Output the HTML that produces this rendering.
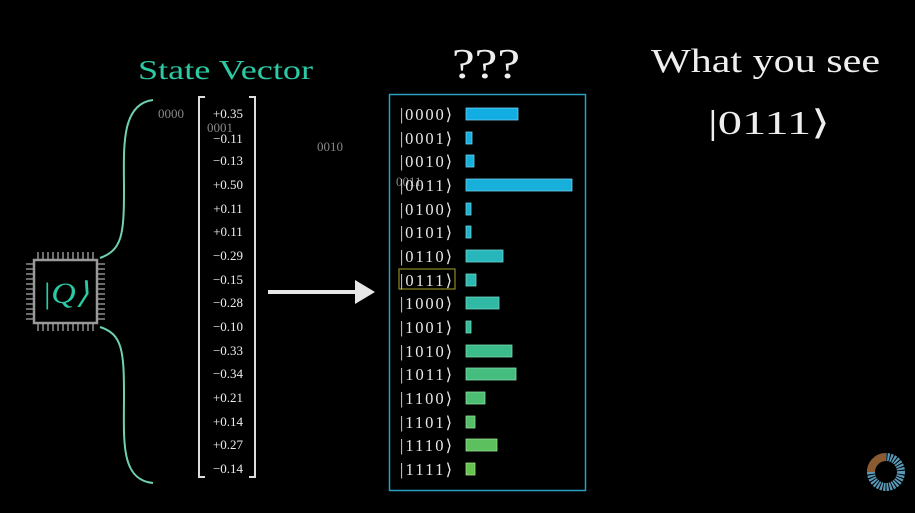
<!DOCTYPE html>
<html><head><style>
html,body{margin:0;padding:0;background:#000;}
svg{display:block}
text{font-family:"Liberation Serif",serif;}
</style></head><body>
<svg width="915" height="513" viewBox="0 0 915 513" xmlns="http://www.w3.org/2000/svg">
<rect width="915" height="513" fill="#000"/>
<text x="138" y="79" font-size="27" fill="#2cc9a4" textLength="175" lengthAdjust="spacingAndGlyphs">State Vector</text>
<text x="452" y="78" font-size="42" fill="#eee" textLength="68" lengthAdjust="spacingAndGlyphs">???</text>
<text x="651" y="72" font-size="34" fill="#eee" textLength="229" lengthAdjust="spacingAndGlyphs">What you see</text>
<text x="708" y="134" font-size="34" fill="#eee" textLength="122" lengthAdjust="spacingAndGlyphs">|0111⟩</text>
<path d="M153,100 C120,104 124,150 124,190 C124,235 122,250 100,258" fill="none" stroke="#6fd1b0" stroke-width="2"/>
<path d="M100,327 C122,334 124,350 124,395 C124,440 120,480 153,483" fill="none" stroke="#6fd1b0" stroke-width="2"/>
<g stroke="#aaa" stroke-width="1.3">
<path d="M38,252v8M43,252v8M48,252v8M53,252v8M58,252v8M63,252v8M68,252v8M73,252v8M78,252v8M83,252v8M88,252v8M93,252v8
M38,323v8M43,323v8M48,323v8M53,323v8M58,323v8M63,323v8M68,323v8M73,323v8M78,323v8M83,323v8M88,323v8M93,323v8
M26,264h8M26,269h8M26,274h8M26,279h8M26,284h8M26,289h8M26,294h8M26,299h8M26,304h8M26,309h8M26,314h8M26,319h8
M97,264h8M97,269h8M97,274h8M97,279h8M97,284h8M97,289h8M97,294h8M97,299h8M97,304h8M97,309h8M97,314h8M97,319h8"/>
</g>
<rect x="34" y="260" width="63" height="63" fill="#000" stroke="#999" stroke-width="2.5"/>
<text x="42" y="303" font-size="30" font-style="italic" fill="#2cc9a4" textLength="47" lengthAdjust="spacingAndGlyphs">|Q⟩</text>
<path d="M205,97 h-6 v380 h6" fill="none" stroke="#ddd" stroke-width="2"/>
<path d="M249,97 h6 v380 h-6" fill="none" stroke="#ddd" stroke-width="2"/>
<g font-size="13" fill="#eee" text-anchor="middle">
<text x="228" y="118">+0.35</text>
<text x="228" y="143">−0.11</text>
<text x="228" y="165">−0.13</text>
<text x="228" y="189">+0.50</text>
<text x="228" y="213">+0.11</text>
<text x="228" y="236">+0.11</text>
<text x="228" y="260">−0.29</text>
<text x="228" y="284">−0.15</text>
<text x="228" y="307">−0.28</text>
<text x="228" y="331">−0.10</text>
<text x="228" y="355">−0.33</text>
<text x="228" y="378">−0.34</text>
<text x="228" y="402">+0.21</text>
<text x="228" y="426">+0.14</text>
<text x="228" y="449">+0.27</text>
<text x="228" y="473">−0.14</text>
</g>
<g font-size="13" fill="#888">
<text x="158" y="118">0000</text>
<text x="207" y="132">0001</text>
<text x="317" y="151">0010</text>
<text x="396" y="186">0011</text>
</g>
<rect x="268" y="290" width="90" height="4" fill="#e8e8e8"/>
<polygon points="355,280 375,292 355,304" fill="#e8e8e8"/>
<rect x="389.5" y="94.5" width="196" height="396" fill="none" stroke="#2a9fc0" stroke-width="1.5"/>
<rect x="399" y="269" width="56" height="20" fill="none" stroke="#8a8a20" stroke-width="1.2"/>
<g font-size="16.5" fill="#e8e8e8">
<text x="400" y="120" textLength="52">|0000⟩</text>
<text x="400" y="144" textLength="52">|0001⟩</text>
<text x="400" y="167" textLength="52">|0010⟩</text>
<text x="400" y="191" textLength="52">|0011⟩</text>
<text x="400" y="215" textLength="52">|0100⟩</text>
<text x="400" y="238" textLength="52">|0101⟩</text>
<text x="400" y="262" textLength="52">|0110⟩</text>
<text x="400" y="286" textLength="52">|0111⟩</text>
<text x="400" y="309" textLength="52">|1000⟩</text>
<text x="400" y="333" textLength="52">|1001⟩</text>
<text x="400" y="357" textLength="52">|1010⟩</text>
<text x="400" y="380" textLength="52">|1011⟩</text>
<text x="400" y="404" textLength="52">|1100⟩</text>
<text x="400" y="428" textLength="52">|1101⟩</text>
<text x="400" y="451" textLength="52">|1110⟩</text>
<text x="400" y="475" textLength="52">|1111⟩</text>
</g>
<g stroke-width="0.8">
<rect x="466" y="108" width="52" height="12" fill="#12ade2" stroke="#6cd0f0"/>
<rect x="466" y="132" width="6" height="12" fill="#14aee0" stroke="#6cd0f0"/>
<rect x="466" y="155" width="8" height="12" fill="#16b0dc" stroke="#6cd0f0"/>
<rect x="466" y="179" width="106" height="12" fill="#18b0da" stroke="#6cd0f0"/>
<rect x="466" y="203" width="5" height="12" fill="#1cb2d2" stroke="#6cd0e0"/>
<rect x="466" y="226" width="5" height="12" fill="#20b4c8" stroke="#6cd0e0"/>
<rect x="466" y="250" width="37" height="12" fill="#26b6bc" stroke="#70d8d0"/>
<rect x="466" y="274" width="10" height="12" fill="#2ab8b0" stroke="#70d8d0"/>
<rect x="466" y="297" width="33" height="12" fill="#30b9a4" stroke="#70d8c8"/>
<rect x="466" y="321" width="5" height="12" fill="#36ba98" stroke="#70d8c0"/>
<rect x="466" y="345" width="46" height="12" fill="#3cbc8a" stroke="#78dab0"/>
<rect x="466" y="368" width="50" height="12" fill="#44bd7e" stroke="#80dca8"/>
<rect x="466" y="392" width="19" height="12" fill="#4cbe72" stroke="#88dca0"/>
<rect x="466" y="416" width="9" height="12" fill="#54bf68" stroke="#90dc98"/>
<rect x="466" y="439" width="31" height="12" fill="#5cc05e" stroke="#98dc90"/>
<rect x="466" y="463" width="9" height="12" fill="#66c250" stroke="#a0dc88"/>
</g>
<circle cx="886" cy="472" r="15" fill="none" stroke="#5a98b8" stroke-width="8" stroke-dasharray="2 1"/>
<path d="M886,457 A15,15 0 0 0 871,472" fill="none" stroke="#8a5a30" stroke-width="8"/>
</svg>
</body></html>
